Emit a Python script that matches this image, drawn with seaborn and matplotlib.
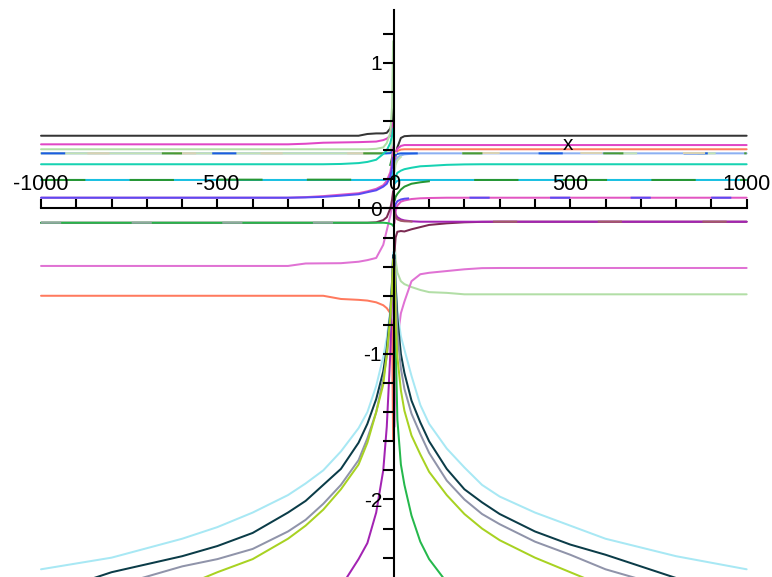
import matplotlib
matplotlib.use("Agg")
import matplotlib.pyplot as plt
import seaborn as sns
from matplotlib.ticker import FixedLocator

# ---------------- data ----------------
XL = [-1000, -800, -600, -500, -400, -300, -250, -200, -150, -100, -75, -50, -30, -20, -10, -5, -2]
XR = [2, 5, 10, 20, 30, 50, 75, 100, 150, 200, 250, 300, 400, 500, 600, 800, 1000]

x_ticks = [-1000, -500, 0, 500, 1000]
x_tick_labels = ["-1000", "-500", "0", "500", "1000"]
x_minor_ticks = [-900, -800, -700, -600, -400, -300, -200, -100, 100, 200, 300, 400, 600, 700, 800, 900]
y_ticks = [-2, -1, 0, 1]
y_tick_labels = ["-2", "-1", "0", "1"]
y_minor_ticks = [-2.4, -2.2, -1.8, -1.6, -1.4, -1.2, -0.8, -0.6, -0.4, -0.2,
                 0.2, 0.4, 0.6, 0.8, 1.2]

# level curves (left half / right half)
darkgray_L = [0.50, 0.50, 0.50, 0.50, 0.50, 0.50, 0.50, 0.50, 0.50, 0.50, 0.512, 0.516, 0.516, 0.52, 0.55, 0.60, 0.70]
darkgray_R = [0.30, 0.37, 0.42, 0.485, 0.497, 0.50, 0.50, 0.50, 0.50, 0.50, 0.50, 0.50, 0.50, 0.50, 0.50, 0.50, 0.50]

magenta_L = [0.441, 0.441, 0.441, 0.441, 0.441, 0.441, 0.445, 0.452, 0.454, 0.456, 0.458, 0.46, 0.47, 0.48, 0.50, 0.55, 0.60]
magenta_R = [0.33, 0.38, 0.41, 0.43, 0.436, 0.436, 0.436, 0.436, 0.436, 0.436, 0.436, 0.436, 0.436, 0.436, 0.436, 0.436, 0.436]

palegreen_L = [0.407, 0.407, 0.407, 0.407, 0.407, 0.407, 0.407, 0.407, 0.407, 0.407, 0.407, 0.41, 0.42, 0.45, 0.52, 0.70, 1.15]
palegreen_R = [-0.20, -0.35, -0.44, -0.50, -0.52, -0.54, -0.56, -0.575, -0.58, -0.59, -0.59, -0.59, -0.59, -0.59, -0.59, -0.59, -0.59]

tomato_L = [-0.60, -0.60, -0.60, -0.60, -0.60, -0.60, -0.60, -0.60, -0.622, -0.628, -0.633, -0.645, -0.665, -0.685, -0.72, -0.80, -1.60]
tomato_R = [0.36, 0.38, 0.395, 0.405, 0.407, 0.407, 0.407, 0.407, 0.407, 0.407, 0.407, 0.407, 0.407, 0.407, 0.407, 0.407, 0.407]

orchid_L = [-0.395, -0.395, -0.395, -0.395, -0.395, -0.395, -0.378, -0.377, -0.376, -0.366, -0.355, -0.34, -0.25, -0.15, -0.05, 0.02, 0.10]
orchid_R = [-1.50, -1.10, -0.90, -0.72, -0.64, -0.50, -0.452, -0.442, -0.43, -0.418, -0.41, -0.409, -0.409, -0.409, -0.409, -0.409, -0.409]

sky_L = [0.379, 0.379, 0.379, 0.379, 0.379, 0.379, 0.379, 0.379, 0.379, 0.379, 0.379, 0.379, 0.379, 0.38, 0.39, 0.42, 0.46]
sky_R = [0.28, 0.32, 0.35, 0.365, 0.372, 0.376, 0.379, 0.379, 0.379, 0.379, 0.379, 0.379, 0.379, 0.379, 0.379, 0.379, 0.379]

sage_L = [0.379, 0.379, 0.379, 0.379, 0.379, 0.379, 0.379, 0.379, 0.379, 0.379, 0.379, 0.379, 0.379, 0.385, 0.40, 0.45, 0.50]
sage_R = [0.25, 0.30, 0.33, 0.355, 0.365, 0.372, 0.377, 0.379, 0.379, 0.379, 0.379, 0.379, 0.379, 0.379, 0.379, 0.379, 0.379]

royal_L = [0.379, 0.379, 0.379, 0.379, 0.379, 0.379, 0.379, 0.379, 0.379, 0.379, 0.379, 0.379, 0.379, 0.379, 0.38, 0.39, 0.41]
royal_R = [0.36, 0.37, 0.375, 0.379, 0.379, 0.379, 0.379, 0.379, 0.379, 0.379, 0.379, 0.379, 0.379, 0.379, 0.379, 0.379, 0.379]

tan_L = [0.379, 0.379, 0.379, 0.379, 0.379, 0.379, 0.379, 0.379, 0.379, 0.379, 0.379, 0.379, 0.379, 0.379, 0.38, 0.38, 0.38]
tan_R = [0.379, 0.379, 0.379, 0.379, 0.379, 0.379, 0.379, 0.379, 0.379, 0.379, 0.379, 0.379, 0.379, 0.379, 0.379, 0.379, 0.379]

olive_L = [0.379, 0.379, 0.379, 0.379, 0.379, 0.379, 0.379, 0.379, 0.379, 0.379, 0.379, 0.379, 0.379, 0.379, 0.36, 0.34, 0.30]
olive_R = [0.20, 0.25, 0.28, 0.30, 0.32, 0.345, 0.365, 0.375, 0.379, 0.379, 0.379, 0.379, 0.379, 0.379, 0.379, 0.379, 0.379]

turquoise_L = [0.304, 0.304, 0.304, 0.304, 0.304, 0.304, 0.304, 0.304, 0.306, 0.312, 0.32, 0.335, 0.375, 0.40, 0.45, 0.50, 0.55]
turquoise_R = [0.18, 0.22, 0.245, 0.26, 0.27, 0.28, 0.29, 0.293, 0.30, 0.303, 0.304, 0.304, 0.304, 0.304, 0.304, 0.304, 0.304]

cyan_L = [0.196, 0.196, 0.196, 0.196, 0.196, 0.196, 0.196, 0.196, 0.196, 0.196, 0.196, 0.196, 0.196, 0.196, 0.20, 0.22, 0.26]
cyan_R = [0.17, 0.18, 0.19, 0.196, 0.196, 0.196, 0.196, 0.196, 0.196, 0.196, 0.196, 0.196, 0.196, 0.196, 0.196, 0.196, 0.196]

forest_L = [0.196, 0.196, 0.196, 0.198, 0.198, 0.198, 0.198, 0.198, 0.198, 0.198, 0.20, 0.21, 0.23, 0.25, 0.30, 0.35, 0.40]
forest_R = [0.05, 0.08, 0.10, 0.13, 0.15, 0.17, 0.18, 0.187, 0.193, 0.196, 0.196, 0.196, 0.196, 0.196, 0.196, 0.196, 0.196]

hotpink_L = [0.074, 0.074, 0.074, 0.074, 0.074, 0.074, 0.078, 0.085, 0.095, 0.105, 0.118, 0.135, 0.16, 0.19, 0.25, 0.32, 0.42]
hotpink_R = [-0.10, -0.02, 0.02, 0.047, 0.055, 0.065, 0.07, 0.072, 0.074, 0.074, 0.074, 0.074, 0.074, 0.074, 0.074, 0.074, 0.074]

violet_L = [0.074, 0.074, 0.074, 0.074, 0.074, 0.074, 0.076, 0.08, 0.088, 0.098, 0.112, 0.125, 0.15, 0.17, 0.22, 0.28, 0.35]
violet_R = [0.0, 0.03, 0.05, 0.062, 0.067, 0.071, 0.074, 0.074, 0.074, 0.074, 0.074, 0.074, 0.074, 0.074, 0.074, 0.074, 0.074]

maroon_L = [-0.098, -0.098, -0.098, -0.098, -0.098, -0.098, -0.098, -0.098, -0.098, -0.098, -0.098, -0.095, -0.08, -0.06, 0.0, 0.06, 0.12]
maroon_R = [-0.30, -0.20, -0.16, -0.155, -0.158, -0.143, -0.128, -0.113, -0.102, -0.095, -0.092, -0.091, -0.091, -0.091, -0.091, -0.091, -0.091]

slate_L = [-0.098, -0.098, -0.098, -0.098, -0.098, -0.098, -0.098, -0.098, -0.098, -0.098, -0.098, -0.098, -0.098, -0.10, -0.105, -0.11, -0.12]
rosewood_R = [-0.02, -0.06, -0.075, -0.085, -0.088, -0.09, -0.091, -0.091, -0.091, -0.091, -0.091, -0.091, -0.091, -0.091, -0.091, -0.091, -0.091]

# curves that fall away from the axis
green_L = [-0.098, -0.098, -0.098, -0.098, -0.098, -0.098, -0.098, -0.098, -0.098, -0.098, -0.098, -0.098, -0.098, -0.10, -0.105, -0.11, -0.12]
green_R = [-0.40, -0.90, -1.45, -1.76, -1.90, -2.11, -2.29, -2.41, -2.57, -2.70, -2.80, -2.90, -3.05, -3.15, -3.25, -3.40, -3.50]

purple_L = [-3.60, -3.50, -3.35, -3.25, -3.15, -3.00, -2.90, -2.80, -2.60, -2.41, -2.30, -2.09, -1.80, -1.50, -1.00, -0.60, -0.35]
purple_R = [0.0, -0.04, -0.06, -0.075, -0.082, -0.088, -0.091, -0.091, -0.091, -0.091, -0.091, -0.091, -0.091, -0.091, -0.091, -0.091, -0.091]

icecyan_L = [-2.48, -2.40, -2.27, -2.19, -2.09, -1.97, -1.89, -1.80, -1.67, -1.51, -1.40, -1.22, -1.02, -0.89, -0.70, -0.50, -0.30]
icecyan_R = [-0.30, -0.50, -0.70, -0.88, -0.97, -1.15, -1.35, -1.48, -1.65, -1.78, -1.90, -1.98, -2.09, -2.18, -2.27, -2.39, -2.48]

teal_L = [-2.66, -2.50, -2.39, -2.32, -2.23, -2.09, -2.01, -1.90, -1.79, -1.61, -1.48, -1.31, -1.12, -0.96, -0.72, -0.50, -0.32]
teal_R = [-0.32, -0.52, -0.75, -1.00, -1.13, -1.32, -1.47, -1.60, -1.79, -1.93, -2.02, -2.10, -2.22, -2.31, -2.38, -2.54, -2.66]

gray_L = [-2.75, -2.60, -2.46, -2.41, -2.34, -2.22, -2.14, -2.03, -1.90, -1.73, -1.58, -1.40, -1.17, -1.02, -0.78, -0.55, -0.35]
gray_R = [-0.35, -0.58, -0.85, -1.10, -1.24, -1.41, -1.55, -1.68, -1.87, -2.00, -2.10, -2.17, -2.29, -2.38, -2.48, -2.62, -2.74]

lime_L = [-2.90, -2.78, -2.60, -2.50, -2.41, -2.27, -2.18, -2.07, -1.93, -1.76, -1.61, -1.40, -1.21, -1.00, -0.75, -0.55, -0.35]
lime_R = [-0.40, -0.75, -1.02, -1.25, -1.39, -1.56, -1.69, -1.81, -1.97, -2.10, -2.20, -2.28, -2.40, -2.50, -2.60, -2.74, -2.87]

# ---------------- styling ----------------
sns.set_style("ticks")
plt.rcParams["font.family"] = ["Liberation Sans", "DejaVu Sans"]
plt.rcParams["axes.unicode_minus"] = False

fig = plt.figure(figsize=(7.72, 5.77), dpi=100)
ax = fig.add_axes([0, 0, 1, 1])

LW = 1.45


def draw(xs, ys, color, ls="-"):
    if ys is None:
        return
    sns.lineplot(x=xs, y=ys, color=color, linestyle=ls, linewidth=LW,
                 ax=ax, estimator=None, sort=False, legend=False)


SOLID = "-"
# (left half, right half, colour, left style, right style)
series = [
    (darkgray_L, darkgray_R, "#353535", SOLID, SOLID),
    (tomato_L, tomato_R, "#ff7a5e", SOLID, SOLID),
    (magenta_L, magenta_R, "#e047c6", SOLID, SOLID),
    (palegreen_L, palegreen_R, "#b2dea6", SOLID, SOLID),
    (sky_L, sky_R, "#8cb0f2", SOLID, SOLID),
    (sage_L, sage_R, "#c3e2b3", SOLID, (0, (9, 30))),
    (royal_L, royal_R, "#1b5de2", (0, (12, 73)), (0, (12, 60))),
    (tan_L, tan_R, "#d9d2b3", (20, (11, 32)), (10, (11, 40))),
    (olive_L, olive_R, "#4a9a34", (40, (10, 90)), (30, (10, 60))),
    (turquoise_L, turquoise_R, "#16d2b2", SOLID, SOLID),
    (cyan_L, cyan_R, "#18c0e2", SOLID, SOLID),
    (forest_L, forest_R, "#279633", (0, (22, 22)), (0, (22, 22))),
    (orchid_L, orchid_R, "#e072d4", SOLID, SOLID),
    (hotpink_L, hotpink_R, "#e256c2", SOLID, SOLID),
    (violet_L, violet_R, "#5a4af2", SOLID, (0, (10, 30))),
    (maroon_L, maroon_R, "#7b2a52", SOLID, SOLID),
    (green_L, green_R, "#25b84c", SOLID, SOLID),
    (purple_L, purple_R, "#a324b3", SOLID, SOLID),
    (slate_L, None, "#8fa9a0", (0, (10, 35)), SOLID),
    (None, rosewood_R, "#a35a6a", SOLID, (0, (12, 40))),
    (icecyan_L, icecyan_R, "#a8e8f4", SOLID, SOLID),
    (teal_L, teal_R, "#0b3c48", SOLID, SOLID),
    (gray_L, gray_R, "#9094aa", SOLID, SOLID),
    (lime_L, lime_R, "#a8d222", SOLID, SOLID),
]

for left, right, col, ls_l, ls_r in series:
    draw(XL, left, col, ls_l)
    draw(XR, right, col, ls_r)

# ---------------- axes (Maple style, crossing at the origin) ----------------
ax.set_xlim(-1116.3, 1071.9)
ax.set_ylim(-2.533, 1.433)
ax.set_axisbelow(False)

for s in ["top", "right"]:
    ax.spines[s].set_visible(False)
ax.spines["left"].set_position(("data", 0))
ax.spines["bottom"].set_position(("data", 0))
ax.spines["bottom"].set_bounds(-1000, 1000)
ax.spines["left"].set_bounds(-2.533, 1.364)
for s in ["left", "bottom"]:
    ax.spines[s].set_linewidth(1.5)
    ax.spines[s].set_color("black")
    ax.spines[s].set_zorder(5)

ax.xaxis.set_major_locator(FixedLocator(x_ticks))
ax.set_xticklabels(x_tick_labels)
ax.xaxis.set_minor_locator(FixedLocator(x_minor_ticks))
ax.yaxis.set_major_locator(FixedLocator(y_ticks))
ax.set_yticklabels(y_tick_labels)
ax.yaxis.set_minor_locator(FixedLocator(y_minor_ticks))

ax.tick_params(axis="x", which="both", direction="in", length=6.5, width=1.5,
               color="black", bottom=True, top=False)
ax.tick_params(axis="x", which="major", pad=-24.8, labelsize=15.5, labelcolor="black")
ax.tick_params(axis="y", which="both", direction="out", length=8, width=1.5,
               color="black", left=True, right=False)
ax.tick_params(axis="y", which="major", pad=0.5, labelsize=15, labelcolor="black")

ax.set_xlabel("x", fontsize=15, color="black")
ax.xaxis.set_label_coords(568 / 772, 1 - 145 / 577)
ax.xaxis.label.set_va("center")
ax.set_ylabel("")

fig.savefig("out.png", dpi=100)
